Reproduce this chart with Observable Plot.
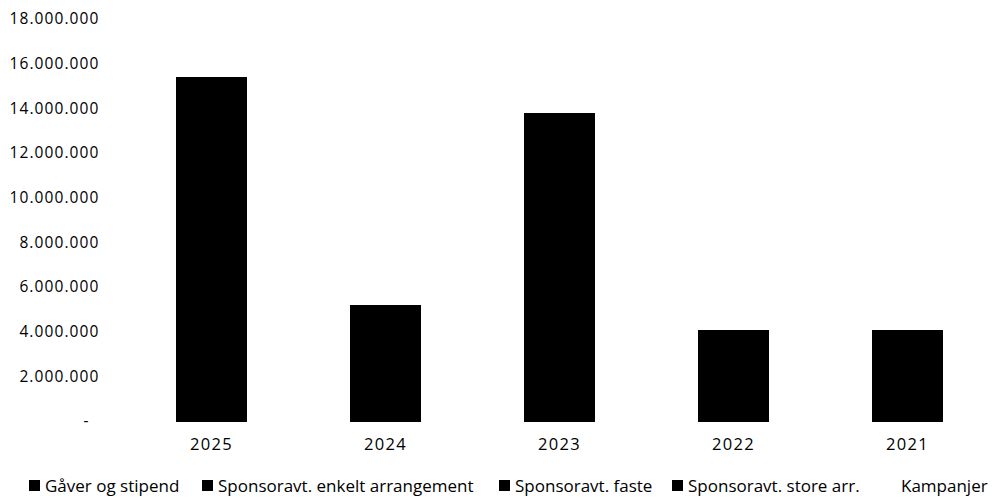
<!DOCTYPE html>
<html>
<head>
<meta charset="utf-8">
<script src="https://cdn.jsdelivr.net/npm/d3@7"></script>
<script src="https://cdn.jsdelivr.net/npm/@observablehq/plot@0.6"></script>
<style>
  html, body { margin: 0; padding: 0; background: #fff; }
  body { width: 995px; height: 502px; overflow: hidden; font-family: "Open Sans", sans-serif; }
  #legend { position: relative; height: 32px; font-size: 17px; color: #000; white-space: nowrap; }
  .item { display: flex; align-items: center; position: absolute; top: 4px; }
  .sw { width: 11px; height: 11px; background: #000; margin-right: 5px; display: inline-block; }
  .yax text { letter-spacing: 1.1px; }
  .xax text { letter-spacing: 1.3px; }
</style>
</head>
<body>
<div id="chart"></div>
<div id="legend"></div>
<script>
const years = ["2025", "2024", "2023", "2022", "2021"];
const series = ["Gåver og stipend", "Sponsoravt. enkelt arrangement", "Sponsoravt. faste", "Sponsoravt. store arr.", "Kampanjer"];
const gaver   = [1200000,  800000,  900000,  700000,  600000];
const enkelt  = [2500000, 1500000, 2200000, 1100000, 1000000];
const faste   = [4000000, 2880000, 3300000, 2260000, 2430000];
const store   = [7660000,       0, 7350000,       0,       0];
const kampanjer = [0, 0, 0, 0, 0];
const yTicks = [0, 2000000, 4000000, 6000000, 8000000, 10000000, 12000000, 14000000, 16000000, 18000000];
const seriesFill = ["#000", "#000", "#000", "#000", "none"];

const cols = [gaver, enkelt, faste, store, kampanjer];
const data = [];
series.forEach((s, i) => years.forEach((y, j) => data.push({year: y, series: s, value: cols[i][j]})));

const fmt = v => v === 0 ? "-\u2007" : d3.format(",")(v).replace(/,/g, ".");

const H = 470;
const chart = Plot.plot({
  width: 995,
  height: H,
  marginLeft: 122,
  marginRight: 0,
  marginTop: 19,
  marginBottom: H - 421,
  style: {fontFamily: "Open Sans, sans-serif", color: "#000", background: "#fff"},
  x: {domain: years, paddingInner: 0.6, paddingOuter: 0.3, label: null},
  y: {domain: [0, 18000000], label: null},
  color: {domain: series, range: seriesFill},
  marks: [
    Plot.barY(data, Plot.stackY({x: "year", y: "value", z: "series", fill: "series", stroke: "series", strokeWidth: 1, shapeRendering: "crispEdges", order: series})),
    Plot.axisY({ticks: yTicks, tickFormat: fmt, tickSize: 0, tickPadding: 23, fontSize: 15.5, label: null, className: "yax"}),
    Plot.axisX({tickSize: 0, tickPadding: 17, fontSize: 16.5, label: null, className: "xax"})
  ]
});
document.getElementById("chart").appendChild(chart);

const legend = document.getElementById("legend");
const lx = [29, 202, 499, 672, 885];
series.forEach((s, i) => {
  const it = document.createElement("div");
  it.className = "item";
  it.style.left = lx[i] + "px";
  const sw = document.createElement("span");
  sw.className = "sw";
  sw.style.background = seriesFill[i] === "none" ? "transparent" : seriesFill[i];
  it.appendChild(sw);
  const t = document.createElement("span");
  t.textContent = s;
  it.appendChild(t);
  legend.appendChild(it);
});
</script>
</body>
</html>
